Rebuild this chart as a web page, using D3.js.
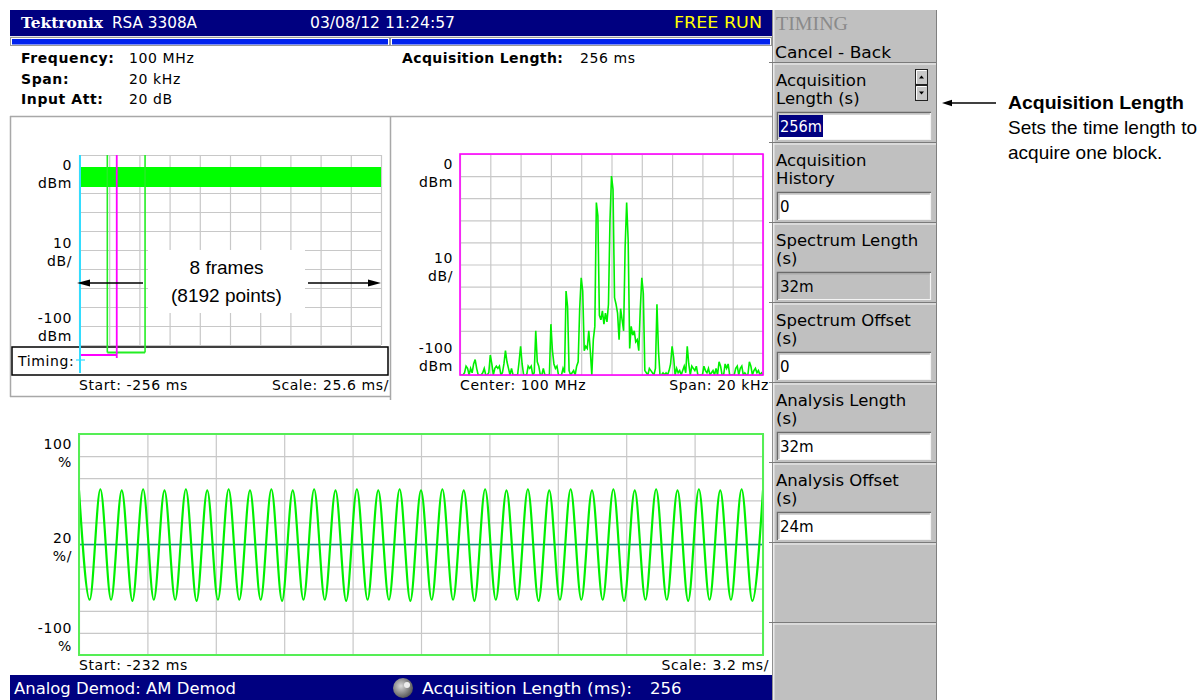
<!DOCTYPE html>
<html><head><meta charset="utf-8">
<script src="https://cdn.jsdelivr.net/npm/d3@7"></script>
<style>html,body{margin:0;padding:0;background:#fff;} svg{display:block;}</style>
</head><body>
<svg id="c" width="1203" height="700"></svg>
<script>
// ================= DATA =================
const brandName = "Tektronix";
const instrumentName = "RSA 3308A";
const timestamp = "03/08/12 11:24:57";
const runState = "FREE RUN";
const setupLabels = ["Frequency:", "Span:", "Input Att:"];
const setupValues = ["100 MHz", "20 kHz", "20 dB"];
const acqLabel = "Acquisition Length:";
const acqValue = "256 ms";

// Amplitude vs time (overview)
const ampTimeDomainMs = [-256, 0];
const ampTimeDivMs = 25.6;
const ampDbmDomain = [-100, 0];
const ampDbmDiv = 10;
const ampYLabels = [["0", "dBm"], ["10", "dB/"], ["-100", "dBm"]];
const ampBandTimeMs = [-256, 0];
const ampBandMaxDbm = [-6.3, -6.3];
const ampBandMinDbm = [-16.8, -16.8];
const acqMarkerMs = -256;
const spectrumWindowMs = [-256, -224];
const analysisWindowMs = [-232, -200];
const timingLabel = "Timing:";
const ampStartLabel = "Start: -256 ms";
const ampScaleLabel = "Scale: 25.6 ms/";
const framesNote = ["8 frames", "(8192 points)"];

// Spectrum
const specFreqDomainKHz = [-10, 10];
const specFreqDivKHz = 2;
const specDbmDomain = [-100, 0];
const specStartKHz = -10, specStepKHz = 0.1;
const specDbm = [
  -100,-100,-100,-99,-96,-97,-100,-97,-99,-95,
  -93,-97,-100,-100,-100,-99,-97,-100,-100,-99,
  -91,-95,-100,-97,-96,-97,-96,-100,-99,-95,
  -89,-94,-97,-100,-97,-100,-100,-100,-100,-94,
  -87,-95,-100,-100,-100,-96,-97,-96,-100,-99,
  -80,-94,-96,-100,-100,-97,-100,-100,-100,-100,
  -77,-89,-95,-97,-96,-100,-100,-100,-97,-99,
  -62,-69,-98,-100,-99,-98,-100,-96,-94,-70,
  -56,-62,-89,-87,-88,-80,-89,-100,-84,-78,
  -22,-28,-73,-75,-71,-77,-72,-76,-68,-30,
  -10,-16,-65,-68,-72,-84,-70,-75,-80,-42,
  -22,-39,-88,-78,-82,-80,-85,-84,-89,-70,
  -56,-63,-98,-99,-100,-97,-98,-99,-100,-97,
  -68,-89,-100,-100,-99,-100,-99,-100,-98,-95,
  -87,-92,-100,-97,-99,-98,-100,-98,-96,-99,
  -87,-95,-100,-96,-97,-98,-96,-100,-100,-100,
  -100,-96,-98,-99,-97,-100,-99,-98,-100,-97,
  -100,-94,-96,-100,-100,-95,-97,-95,-100,-100,
  -100,-100,-97,-96,-100,-97,-96,-100,-99,-100,
  -100,-94,-96,-100,-98,-97,-99,-98,-100,-99,
  -100
];
const specYLabels = [["0", "dBm"], ["10", "dB/"], ["-100", "dBm"]];
const specCenterLabel = "Center: 100 MHz";
const specSpanLabel = "Span: 20 kHz";

// AM demod (peaks and troughs, one every half period)
const demodTimeDomainMs = [-232, -200];
const demodTimeDivMs = 3.2;
const demodPctDomain = [-100, 100];
const demodStartMs = -232, demodHalfPeriodMs = 0.5;
const demodExtremaPct = [
  49,-50,50,-50,49,-51,50,-50, 49,-50,50,-51,49,-50,50,-50,
  49,-50,50,-51,49,-50,50,-50, 49,-51,50,-50,49,-50,50,-51,
  49,-50,50,-50,49,-51,50,-50, 49,-50,50,-51,49,-50,50,-50,
  49,-50,50,-51,49,-50,50,-50, 49,-51,50,-50,49,-50,50,-51,
  49
];
const demodYLabels = [["100", "%"], ["20", "%/"], ["-100", "%"]];
const demodStartLabel = "Start: -232 ms";
const demodScaleLabel = "Scale: 3.2 ms/";

// Status bar
const statusLeft = "Analog Demod: AM Demod";
const statusKnobLabel = "Acquisition Length (ms):";
const statusKnobValue = "256";

// Side menu
const menuTitle = "TIMING";
const menuBack = "Cancel - Back";
const menuLabels = [["Acquisition", "Length (s)"], ["Acquisition", "History"], ["Spectrum Length", "(s)"],
                    ["Spectrum Offset", "(s)"], ["Analysis Length", "(s)"], ["Analysis Offset", "(s)"]];
const menuValues = ["256m", "0", "32m", "0", "32m", "24m"];
const menuDisabled = [false, false, true, false, false, false];

// Callout
const calloutTitle = "Acquisition Length";
const calloutLines = ["Sets the time length to", "acquire one block."];

// ================= DRAW =================
const INSTR = "'DejaVu Sans', Verdana, sans-serif";
const ARIAL = "'Liberation Sans', Arial, Helvetica, sans-serif";
const svg = d3.select("#c");
const NAVY = "#000080";
const GRIDC = "#c8c8c8";
const TRACE = "#00f000";
const LS = 0.6, FS = 14;

function label(g, x, y, s, o = {}) {
  const t = g.append("text").attr("x", x).attr("y", y).text(s)
    .attr("font-family", o.family || INSTR).attr("font-size", o.size || FS)
    .attr("font-weight", o.weight || "normal").attr("fill", o.fill || "#000")
    .attr("text-anchor", o.anchor || "start").attr("dominant-baseline", o.base || "central");
  if (o.ls) t.attr("letter-spacing", o.ls);
  if (o.tl) t.attr("textLength", o.tl).attr("lengthAdjust", "spacingAndGlyphs");
  return t;
}
function line(g, x1, y1, x2, y2, c, w) {
  return g.append("line").attr("x1", x1).attr("y1", y1).attr("x2", x2).attr("y2", y2)
    .attr("stroke", c).attr("stroke-width", w || 1);
}
function gridFor(g, x, y, xTicks, yTicks) {
  const [x0, x1] = x.range(), [y0, y1] = y.range();
  const h = Math.abs(y0 - y1), w = Math.abs(x1 - x0);
  const gx = g.append("g").attr("transform", `translate(0,${Math.max(y0, y1)})`)
    .call(d3.axisBottom(x).tickValues(xTicks).tickSize(-h).tickFormat(""));
  gx.select(".domain").remove();
  gx.selectAll("line").attr("stroke", GRIDC).attr("stroke-width", 1.2);
  const gy = g.append("g").attr("transform", `translate(${Math.min(x0, x1)},0)`)
    .call(d3.axisLeft(y).tickValues(yTicks).tickSize(-w).tickFormat(""));
  gy.select(".domain").remove();
  gy.selectAll("line").attr("stroke", GRIDC).attr("stroke-width", 1.2);
}
function yLabels(g, x, y, labels) {
  const [b, t] = y.range();
  const mid = (b + t) / 2;
  const left = x.range()[0] - 7;
  const pos = [[t + 9.5, t + 27.5], [mid - 7, mid + 11], [b - 27, b - 9]];
  labels.forEach((l, i) => {
    label(g, left, pos[i][0], l[0], { anchor: "end", ls: LS });
    label(g, left, pos[i][1], l[1], { anchor: "end", ls: LS });
  });
}
function ticksFrom(domain, step) {
  const n = Math.round((domain[1] - domain[0]) / step);
  return d3.range(n + 1).map(k => domain[0] + k * step);
}
function arrow(g, x1, y1, x2, y2, hl, hw) {
  const a = Math.atan2(y2 - y1, x2 - x1);
  const bx = x2 - hl * Math.cos(a), by = y2 - hl * Math.sin(a);
  line(g, x1, y1, bx, by, "#000", 1.5);
  g.append("path").attr("d", `M${x2},${y2}L${bx + hw * Math.sin(a)},${by - hw * Math.cos(a)}L${bx - hw * Math.sin(a)},${by + hw * Math.cos(a)}Z`).attr("fill", "#000");
}

// ---------- Header ----------
const hdr = svg.append("g");
hdr.append("rect").attr("x", 10).attr("y", 10).attr("width", 763).attr("height", 26).attr("fill", NAVY);
label(hdr, 21, 22.5, brandName, { size: 15, weight: "bold", fill: "#fff", family: "'DejaVu Serif', 'DejaVu Sans', serif", tl: 82 });
label(hdr, 112, 22.5, instrumentName, { size: 15, fill: "#fff", tl: 85 });
label(hdr, 310, 22.5, timestamp, { size: 16, fill: "#fff", tl: 145 });
label(hdr, 762, 22.5, runState, { size: 16, fill: "#ffff00", anchor: "end", tl: 88 });
// progress bars
hdr.append("rect").attr("x", 10).attr("y", 36).attr("width", 763).attr("height", 10).attr("fill", "#e6e6e6");
[[10.5, 379], [390.5, 381]].forEach(([x, w]) => {
  hdr.append("rect").attr("x", x).attr("y", 37.5).attr("width", w).attr("height", 8).attr("fill", "#fff").attr("stroke", "#999");
  hdr.append("rect").attr("x", x + 1.5).attr("y", 39).attr("width", w - 3).attr("height", 5.5).attr("fill", "#0022ee");
});
setupLabels.forEach((s, i) => {
  label(hdr, 21, 58 + i * 20.5, s, { weight: "bold", ls: LS });
  label(hdr, 129, 58 + i * 20.5, setupValues[i], { ls: LS });
});
label(hdr, 402, 58, acqLabel, { weight: "bold", ls: 0.4 });
label(hdr, 580, 58, acqValue, { ls: LS });

// frame lines
const fr = svg.append("g");
line(fr, 10, 116.5, 773, 116.5, "#a8a8a8", 1.5);
line(fr, 10.5, 116, 10.5, 397, "#a8a8a8", 1.5);
line(fr, 10, 396.5, 390, 396.5, "#a8a8a8", 1.5);
line(fr, 390.5, 116, 390.5, 400, "#a8a8a8", 1.5);

// ---------- Amplitude vs time ----------
const ag = svg.append("g");
const xA = d3.scaleLinear().domain(ampTimeDomainMs).range([79, 381]);
const yA = d3.scaleLinear().domain(ampDbmDomain).range([345, 155]);
gridFor(ag, xA, yA, ticksFrom(ampTimeDomainMs, ampTimeDivMs), ticksFrom(ampDbmDomain, ampDbmDiv));
yLabels(ag, xA, yA, ampYLabels);
const band = ampBandTimeMs.map((t, i) => ({ t, hi: ampBandMaxDbm[i], lo: ampBandMinDbm[i] }));
ag.append("path").datum(band).attr("fill", "#00ff00")
  .attr("d", d3.area().x(d => xA(d.t)).y0(d => yA(d.lo)).y1(d => yA(d.hi)));
// timing box
ag.append("rect").attr("x", 12).attr("y", 347).attr("width", 376).attr("height", 28)
  .attr("fill", "#fff").attr("stroke", "#000").attr("stroke-width", 1.5);
label(ag, 18, 361, timingLabel, { ls: LS });
// analysis window (green)
const aw0 = xA(analysisWindowMs[0]), aw1 = xA(analysisWindowMs[1]);
line(ag, aw0, 155, aw0, 352.5, "#22ee22", 1.6);
line(ag, aw1, 155, aw1, 352.5, "#22ee22", 1.6);
line(ag, aw0, 352.5, aw1, 352.5, "#22ee22", 2);
// spectrum window (magenta)
const sw0 = xA(spectrumWindowMs[0]), sw1 = xA(spectrumWindowMs[1]);
line(ag, sw1, 155, sw1, 358, "#ff00ff", 1.8);
line(ag, sw0 + 1, 355, sw1, 355, "#ff00ff", 2);
line(ag, sw0 + 1, 352, sw0 + 1, 358, "#ff00ff", 1.5);
// acquisition marker (cyan)
const am = xA(acqMarkerMs) + 1;
line(ag, am, 155, am, 373, "#33ddff", 2);
line(ag, am - 4, 360, am + 5, 360, "#33ddff", 1.2);
label(ag, 79, 385, ampStartLabel, { ls: LS });
label(ag, 389, 385, ampScaleLabel, { ls: LS, anchor: "end" });
// annotation
ag.append("rect").attr("x", 148).attr("y", 250).attr("width", 157).attr("height", 63).attr("fill", "#fff");
label(ag, 226.5, 267, framesNote[0], { family: ARIAL, size: 19, anchor: "middle" });
label(ag, 226.5, 295, framesNote[1], { family: ARIAL, size: 19, anchor: "middle" });
arrow(ag, 143, 283, 77, 283, 13, 3.5);
arrow(ag, 308, 283, 381, 283, 13, 3.5);

// ---------- Spectrum ----------
const sg = svg.append("g");
const xS = d3.scaleLinear().domain(specFreqDomainKHz).range([460, 763]);
const yS = d3.scaleLinear().domain(specDbmDomain).range([375, 154]);
gridFor(sg, xS, yS, ticksFrom(specFreqDomainKHz, specFreqDivKHz), ticksFrom(specDbmDomain, 10));
yLabels(sg, xS, yS, specYLabels);
sg.append("clipPath").attr("id", "clipS").append("rect").attr("x", 460).attr("y", 154).attr("width", 303).attr("height", 221);
sg.append("path").datum(specDbm).attr("clip-path", "url(#clipS)")
  .attr("fill", "none").attr("stroke", TRACE).attr("stroke-width", 1.6)
  .attr("d", d3.line().x((d, i) => xS(specStartKHz + i * specStepKHz)).y(d => yS(d)));
sg.append("rect").attr("x", 460).attr("y", 154).attr("width", 303).attr("height", 221)
  .attr("fill", "none").attr("stroke", "#ff00ff").attr("stroke-width", 1.6);
label(sg, 460, 385, specCenterLabel, { ls: LS });
label(sg, 769, 385, specSpanLabel, { ls: LS, anchor: "end" });

// ---------- AM demod ----------
const dg = svg.append("g");
const xD = d3.scaleLinear().domain(demodTimeDomainMs).range([79, 763]);
const yD = d3.scaleLinear().domain(demodPctDomain).range([655, 434]);
gridFor(dg, xD, yD, ticksFrom(demodTimeDomainMs, demodTimeDivMs), ticksFrom(demodPctDomain, 20));
yLabels(dg, xD, yD, demodYLabels);
line(dg, 79, yD(0), 763, yD(0), "#1a8a8a", 1.4);
dg.append("clipPath").attr("id", "clipD").append("rect").attr("x", 79).attr("y", 434).attr("width", 684).attr("height", 221);
dg.append("path").datum(demodExtremaPct).attr("clip-path", "url(#clipD)")
  .attr("fill", "none").attr("stroke", TRACE).attr("stroke-width", 2.2)
  .attr("d", d3.line().x((d, i) => xD(demodStartMs + i * demodHalfPeriodMs)).y(d => yD(d)).curve(d3.curveMonotoneX));
dg.append("rect").attr("x", 79).attr("y", 434).attr("width", 684).attr("height", 221)
  .attr("fill", "none").attr("stroke", "#55ee55").attr("stroke-width", 2);
label(dg, 79, 665, demodStartLabel, { ls: LS });
label(dg, 769, 665, demodScaleLabel, { ls: LS, anchor: "end" });

// ---------- Status bar ----------
const st = svg.append("g");
st.append("rect").attr("x", 10).attr("y", 675).attr("width", 763).attr("height", 25).attr("fill", NAVY);
label(st, 14, 688.5, statusLeft, { size: 16.5, fill: "#fff", tl: 222 });
const grad = svg.append("defs").append("radialGradient").attr("id", "knob").attr("cx", "40%").attr("cy", "40%").attr("r", "65%");
grad.append("stop").attr("offset", "0%").attr("stop-color", "#d8d8d8");
grad.append("stop").attr("offset", "100%").attr("stop-color", "#505050");
st.append("circle").attr("cx", 403).attr("cy", 688).attr("r", 10).attr("fill", "url(#knob)");
st.append("circle").attr("cx", 407).attr("cy", 685).attr("r", 3).attr("fill", "#eee");
label(st, 422, 688.5, statusKnobLabel, { size: 16.5, fill: "#fff", tl: 210 });
label(st, 650, 688.5, statusKnobValue, { size: 16.5, fill: "#fff" });

// ---------- Side menu ----------
const mg = svg.append("g");
mg.append("rect").attr("x", 772).attr("y", 10).attr("width", 165).attr("height", 690).attr("fill", "#c0c0c0");
line(mg, 772.5, 10, 772.5, 700, "#909090", 1);
line(mg, 773.8, 10, 773.8, 700, "#f4f4f4", 1.2);
line(mg, 936.5, 10, 936.5, 700, "#808080", 1);
label(mg, 776, 23, menuTitle, { family: "'Liberation Serif', 'Times New Roman', serif", size: 19, fill: "#8a8a8a", tl: 72 });
label(mg, 775, 52, menuBack, { size: 16, tl: 116 });
const sepYs = [63, 143, 223, 303, 383, 463, 543, 623];
sepYs.forEach(y => {
  line(mg, 769, y - 0.5, 936, y - 0.5, "#7a7a7a", 1.2);
  line(mg, 774, y + 1, 936, y + 1, "#f4f4f4", 1.2);
});
menuLabels.forEach((l, i) => {
  const s = 63 + 80 * i;
  label(mg, 776, s + 17, l[0], { size: 16.5 });
  label(mg, 776, s + 35.5, l[1], { size: 16.5 });
  const bx = 777, by = s + 49, bw = 154, bh = 28;
  mg.append("rect").attr("x", bx).attr("y", by).attr("width", bw).attr("height", bh)
    .attr("fill", menuDisabled[i] ? "#c0c0c0" : "#fff");
  mg.append("path").attr("d", `M${bx + 0.5},${by + bh}V${by + 0.5}H${bx + bw}`).attr("fill", "none").attr("stroke", "#6a6a6a").attr("stroke-width", 1.5);
  mg.append("path").attr("d", `M${bx + 2},${by + bh - 1}V${by + 2}H${bx + bw - 1}`).attr("fill", "none").attr("stroke", "#a8a8a8").attr("stroke-width", 1);
  mg.append("path").attr("d", `M${bx + 1},${by + bh - 0.5}H${bx + bw - 0.5}V${by + 1}`).attr("fill", "none").attr("stroke", "#f4f4f4").attr("stroke-width", 1.2);
  if (i === 0) {
    mg.append("rect").attr("x", 779).attr("y", by + 3).attr("width", 44).attr("height", 22).attr("fill", NAVY);
    label(mg, 780, by + 14.5, menuValues[i], { size: 15, fill: "#fff", tl: 42 });
  } else {
    label(mg, 780, by + 14.5, menuValues[i], { size: 15 });
  }
});
// spin buttons
[[69, "up"], [85, "down"]].forEach(([y, dir]) => {
  mg.append("rect").attr("x", 915.5).attr("y", y + 0.5).attr("width", 12).attr("height", 15).attr("fill", "#c8c8c8").attr("stroke", "#222").attr("stroke-width", 1);
  line(mg, 916.5, y + 1.5, 926.5, y + 1.5, "#fff", 1);
  line(mg, 916.5, y + 1.5, 916.5, y + 14.5, "#fff", 1);
  const cx = 921.5, cy = y + 8;
  mg.append("path").attr("d", dir === "up" ? `M${cx - 2.5},${cy + 1.5}L${cx + 2.5},${cy + 1.5}L${cx},${cy - 1.5}Z` : `M${cx - 2.5},${cy - 1.5}L${cx + 2.5},${cy - 1.5}L${cx},${cy + 1.5}Z`).attr("fill", "#000");
});

// ---------- Callout ----------
const cg = svg.append("g");
arrow(cg, 996, 103, 942, 103, 10, 3.2);
label(cg, 1008, 109, calloutTitle, { family: ARIAL, size: 19, weight: "bold", base: "auto", tl: 176 });
label(cg, 1008, 134, calloutLines[0], { family: ARIAL, size: 19, base: "auto", tl: 189 });
label(cg, 1008, 159, calloutLines[1], { family: ARIAL, size: 19, base: "auto" });
</script>
</body></html>
